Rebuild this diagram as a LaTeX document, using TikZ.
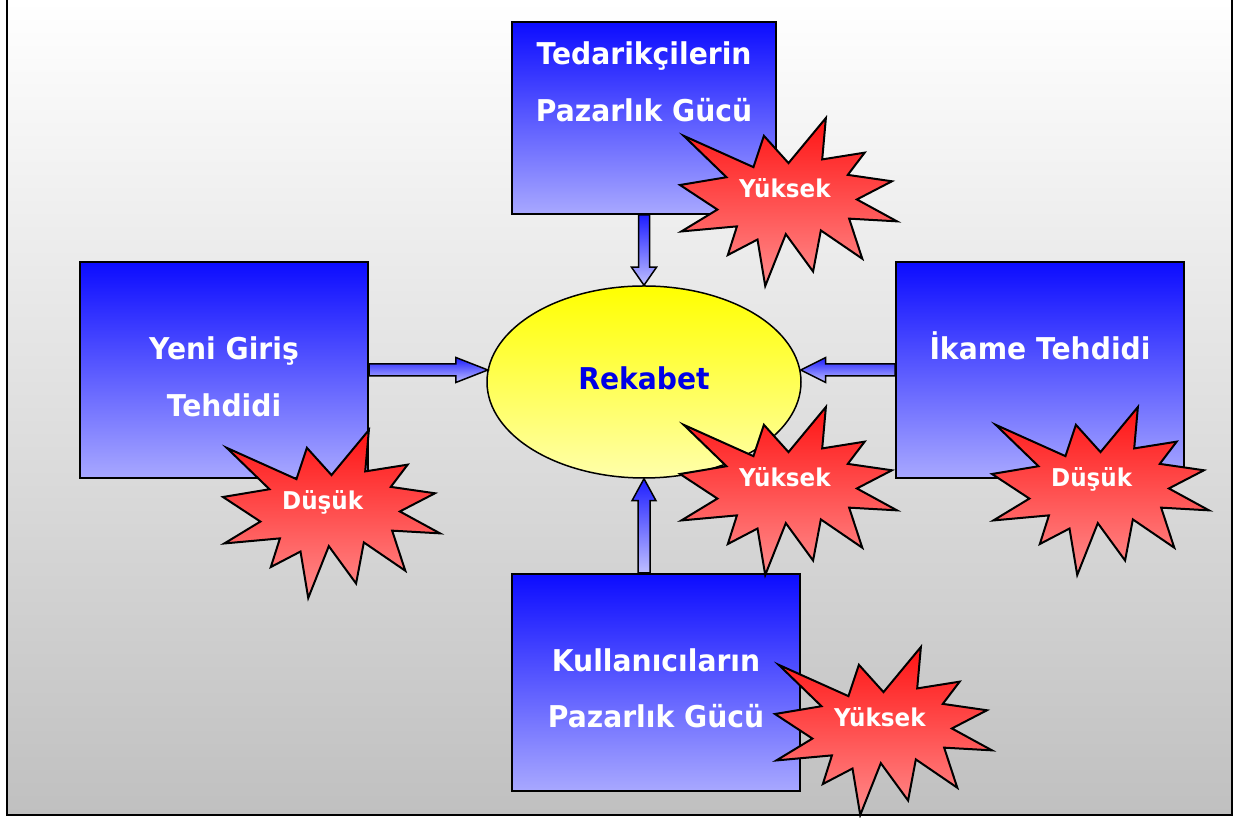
\documentclass[tikz,border=0pt]{standalone}
\usepackage{fontspec}
\setmainfont{DejaVu Sans}
\newfontfamily\tfont{DejaVu Sans}[FakeStretch=0.94]
\usetikzlibrary{shapes.geometric,calc}
\definecolor{bggray}{RGB}{192,192,192}
\definecolor{boxtop}{RGB}{12,12,255}
\definecolor{boxbot}{RGB}{168,168,255}
\definecolor{arrtop}{RGB}{30,30,255}
\definecolor{arrbot}{RGB}{190,190,255}
\definecolor{elltop}{RGB}{255,255,0}
\definecolor{ellbot}{RGB}{255,255,170}
\definecolor{startop}{RGB}{255,20,20}
\definecolor{starbot}{RGB}{255,140,140}
\definecolor{rekblue}{RGB}{0,0,230}
\tikzset{
  forcebox/.style={rectangle, draw=black, line width=2pt, top color=boxtop, bottom color=boxbot, inner sep=0pt},
  boxtxt/.style={text=white, font=\tfont\bfseries\fontsize{30}{36}\selectfont, anchor=base, inner sep=0pt},
  startxt/.style={text=white, font=\tfont\bfseries\fontsize{24.5}{30}\selectfont, anchor=base west, inner sep=0pt},
  blockarr/.style={draw=black, line width=1.5pt, top color=arrtop, bottom color=arrbot, line join=miter},
  starshape/.style={draw=black, line width=2pt, top color=startop, bottom color=starbot, line join=miter},
}
\newcommand\explosion[2]{%
  \begin{scope}[shift={(#1,#2)}, xscale=1.00463, yscale=0.7778]
    \shade[starshape] (108,158) -- (145.22,216) -- (141.55,162.75) -- (183.80,171.43) -- (167.02,142.85) -- (210.97,134.63) -- (176.07,111.25) -- (216,83.10) -- (168.37,86.58) -- (181.45,35.05) -- (140.20,71.43) -- (132.47,18.63) -- (105.32,66.65) -- (84.85,0) -- (77.15,59.73) -- (47.62,39.83) -- (56.67,76.63) -- (1.35,70.13) -- (37.22,98.25) -- (0,129.85) -- (46.27,139.83) -- (3.70,193.05) -- (73.12,152.80) -- (83.52,193.05) -- cycle;
  \end{scope}}
\begin{document}
\begin{tikzpicture}[x=1pt,y=1pt]
\useasboundingbox (0,0) rectangle (1235,818);
% background and frame
\shade[top color=white, bottom color=bggray] (7,3) rectangle (1232,818);
\draw[line width=2.5pt] (7,818) -- (7,3) -- (1232,3) -- (1232,818);

% boxes
\node[forcebox, minimum width=264pt, minimum height=192pt] (sup) at (644,700) {};
\node[forcebox, minimum width=288pt, minimum height=216pt] (new) at (224,448) {};
\node[forcebox, minimum width=288pt, minimum height=216pt] (sub) at (1040,448) {};
\node[forcebox, minimum width=288pt, minimum height=217pt] (buy) at (656,135.5) {};

% box texts
\node[boxtxt] (supa) at (644,753) {Tedarikçilerin};
\node[boxtxt] (supb) at (644,696) {Pazarlık Gücü};
\node[boxtxt] (newa) at (224,458) {Yeni Giriş};
\node[boxtxt] (newb) at (224,401) {Tehdidi};
\node[boxtxt] (suba) at (1040,458) {İkame Tehdidi};
\node[boxtxt] (buya) at (656,146) {Kullanıcıların};
\node[boxtxt] (buyb) at (656,90) {Pazarlık Gücü};

% ellipse
\node[ellipse, draw=black, line width=1.5pt, top color=elltop, bottom color=ellbot, minimum width=314pt, minimum height=192pt, inner sep=0pt] (reb) at (644,436) {};
\node[text=rekblue, font=\tfont\bfseries\fontsize{30}{36}\selectfont, anchor=base, inner sep=0pt] (rebt) at (644,428) {Rekabet};

% block arrows
\shade[blockarr] let \p1=(reb.north |- sup.south), \p2=(reb.north) in
  (\x1-5.5pt,\y1) -- (\x1-5.5pt,\y2+18pt) -- (\x1-12.5pt,\y2+18pt) -- (\x2,\y2) -- (\x1+12.5pt,\y2+18pt) -- (\x1+5.5pt,\y2+18pt) -- (\x1+5.5pt,\y1) -- cycle;
\shade[blockarr] let \p1=(reb.south |- buy.north), \p2=(reb.south) in
  (\x1-6pt,\y1) -- (\x1-6pt,\y2-22pt) -- (\x1-12pt,\y2-22pt) -- (\x2,\y2) -- (\x1+12pt,\y2-22pt) -- (\x1+6pt,\y2-22pt) -- (\x1+6pt,\y1) -- cycle;
\shade[blockarr] let \p1=(new.east), \p2=(reb.175.6) in
  (\x1,\y1+6pt) -- (\x2-32pt,\y1+6pt) -- (\x2-32pt,\y1+12.5pt) -- (\x2,\y1) -- (\x2-32pt,\y1-12.5pt) -- (\x2-32pt,\y1-6pt) -- (\x1,\y1-6pt) -- cycle;
\shade[blockarr] let \p1=(sub.west), \p2=(reb.4.4) in
  (\x1,\y1+6pt) -- (\x2+25pt,\y1+6pt) -- (\x2+25pt,\y1+12.5pt) -- (\x2,\y1) -- (\x2+25pt,\y1-12.5pt) -- (\x2+25pt,\y1-6pt) -- (\x1,\y1-6pt) -- cycle;

% explosions
\explosion{680}{532}
\explosion{223}{220}
\explosion{680}{243}
\explosion{992}{243}
\explosion{775}{3}
\node[startxt] (s1) at (739,620) {Yüksek};
\node[startxt] (s2) at (282,308) {Düşük};
\node[startxt] (s3) at (739,331) {Yüksek};
\node[startxt] (s4) at (1051,331) {Düşük};
\node[startxt] (s5) at (834,91) {Yüksek};
\end{tikzpicture}
\end{document}
